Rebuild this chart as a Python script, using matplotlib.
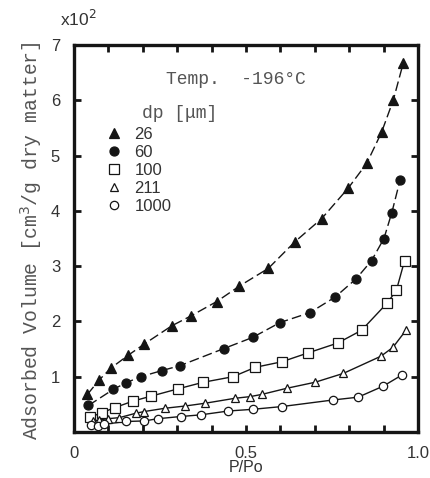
import matplotlib
matplotlib.use("Agg")
import matplotlib.pyplot as plt
from matplotlib.lines import Line2D

# ---- data (P/Po, adsorbed volume x10^2) ----
x26 = [0.039, 0.073, 0.108, 0.158, 0.204, 0.284, 0.340, 0.415, 0.481, 0.565, 0.642, 0.720, 0.797, 0.851, 0.894, 0.928, 0.957]
y26 = [0.68, 0.94, 1.16, 1.39, 1.59, 1.92, 2.10, 2.36, 2.64, 2.96, 3.44, 3.86, 4.41, 4.86, 5.42, 6.00, 6.67]

x60 = [0.042, 0.114, 0.151, 0.194, 0.255, 0.308, 0.436, 0.519, 0.599, 0.686, 0.759, 0.820, 0.865, 0.901, 0.924, 0.948]
y60 = [0.48, 0.77, 0.89, 1.00, 1.11, 1.20, 1.51, 1.71, 1.98, 2.16, 2.44, 2.77, 3.10, 3.50, 3.97, 4.56]

x100 = [0.047, 0.082, 0.118, 0.172, 0.225, 0.302, 0.376, 0.462, 0.527, 0.604, 0.680, 0.767, 0.836, 0.910, 0.937, 0.961]
y100 = [0.27, 0.35, 0.44, 0.56, 0.65, 0.78, 0.90, 1.00, 1.17, 1.27, 1.43, 1.61, 1.84, 2.33, 2.56, 3.10]

x211 = [0.055, 0.074, 0.098, 0.132, 0.180, 0.204, 0.265, 0.323, 0.381, 0.468, 0.512, 0.546, 0.618, 0.701, 0.783, 0.892, 0.927, 0.965]
y211 = [0.20, 0.22, 0.24, 0.26, 0.34, 0.37, 0.43, 0.47, 0.52, 0.61, 0.64, 0.68, 0.79, 0.90, 1.06, 1.37, 1.53, 1.84]

x1000 = [0.049, 0.069, 0.088, 0.151, 0.204, 0.243, 0.310, 0.368, 0.449, 0.519, 0.604, 0.754, 0.826, 0.899, 0.953]
y1000 = [0.13, 0.11, 0.14, 0.19, 0.20, 0.24, 0.28, 0.31, 0.38, 0.41, 0.46, 0.58, 0.63, 0.83, 1.03]

labels = ["26", "60", "100", "211", "1000"]
xticks = [0, 0.5, 1.0]
xticklabels = ["0", "0.5", "1.0"]
yticks = [1, 2, 3, 4, 5, 6, 7]

ink = "#151515"
txt = "#333333"

fig = plt.figure(figsize=(4.31, 4.78), dpi=100)
ax = fig.add_axes([74/431, 1-432/478, 344/431, 387/478])

series = [
    (x26, y26, "^", ink, (7, 3), 7.2),
    (x60, y60, "o", ink, (7, 3), 6.5),
    (x100, y100, "s", "white", None, 6.5),
    (x211, y211, "^", "white", None, 6.0),
    (x1000, y1000, "o", "white", None, 6.0),
]
handles = []
for (xs, ys, m, fc, dash, ms), lab in zip(series, labels):
    ln, = ax.plot(xs, ys, color=ink, lw=1.0, zorder=2)
    if dash:
        ln.set_dashes(dash)
    ax.plot(xs, ys, ls="none", marker=m, ms=ms, mfc=fc, mec=ink, mew=0.9, zorder=3)
    handles.append(Line2D([], [], ls="none", marker=m, ms=ms, mfc=fc, mec=ink, mew=0.9, label=lab))

ax.set_xlim(0, 1.0)
ax.set_ylim(0, 7)
ax.set_xticks(xticks)
ax.set_xticklabels(xticklabels)
ax.set_xticks([i/10 for i in range(1, 10)], minor=True)
ax.set_yticks(yticks)
ax.tick_params(axis="both", which="both", direction="in", top=True, right=True,
               width=2.0, color=ink)
ax.tick_params(axis="both", which="major", length=5, labelsize=12, labelcolor=txt)
ax.tick_params(axis="x", which="major", pad=10)
ax.tick_params(axis="y", which="major", pad=10)
ax.tick_params(axis="x", which="minor", length=5)
for lab in ax.get_xticklabels() + ax.get_yticklabels():
    lab.set_fontfamily("Liberation Sans")
for s in ax.spines.values():
    s.set_linewidth(2.4)
    s.set_color(ink)

ax.set_xlabel("P/Po", fontsize=11.5, color=txt, fontfamily="Liberation Sans", labelpad=-1)
fig.text(31/431, 1-241/478, "Adsorbed Volume [cm$^3$/g dry matter]",
         rotation=90, ha="center", va="center", fontsize=14.2, color="#555555",
         fontfamily="Liberation Mono")
fig.text(78/431, 1-19/478, "x10$^2$", ha="center", va="center", fontsize=12.5,
         color=txt, fontfamily="Liberation Sans")

ax.text((236-74)/344, (432-80)/387, "Temp.  -196°C", ha="center", va="center",
        fontsize=13, color="#555555", fontfamily="Liberation Mono", transform=ax.transAxes)
ax.text((142-74)/344, (432-113)/387, "dp [μm]", ha="left", va="center",
        fontsize=13, color="#555555", fontfamily="Liberation Mono", transform=ax.transAxes)

leg = ax.legend(handles=handles, loc="upper left", bbox_to_anchor=((106-74)/344, (432-127)/387),
                frameon=False, handlelength=1.0, handletextpad=0.7, labelspacing=0.18,
                borderpad=0, borderaxespad=0, prop={"family": "Liberation Sans", "size": 12})
for t in leg.get_texts():
    t.set_color(txt)

fig.savefig("out.png", dpi=100)
